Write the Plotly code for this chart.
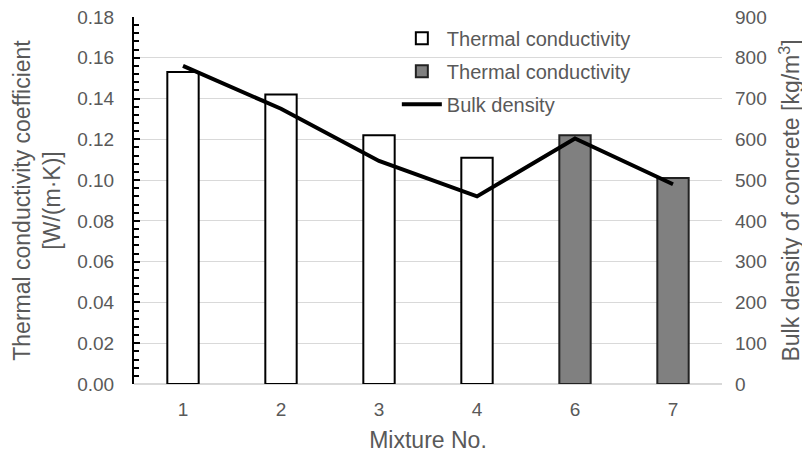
import plotly.graph_objects as go

categories = ["1", "2", "3", "4", "6", "7"]
tc_white_x = ["1", "2", "3", "4"]
tc_white = [0.153, 0.142, 0.122, 0.111]
tc_gray_x = ["6", "7"]
tc_gray = [0.122, 0.101]
density = [780, 675, 547, 460, 602, 490]

left_ticks = [0.00, 0.02, 0.04, 0.06, 0.08, 0.10, 0.12, 0.14, 0.16, 0.18]
right_ticks = [0, 100, 200, 300, 400, 500, 600, 700, 800, 900]

font_fam = "Liberation Sans, Arial, sans-serif"
txt = "#595959"
fs = 19

fig = go.Figure()
fig.add_trace(go.Bar(x=tc_white_x, y=tc_white, name="Thermal conductivity", legendgroup="a",
                     marker=dict(color="white", line=dict(color="black", width=2))))
fig.add_trace(go.Bar(x=tc_gray_x, y=tc_gray, name="Thermal conductivity", legendgroup="b",
                     marker=dict(color="#808080", line=dict(color="#222222", width=2))))
fig.add_trace(go.Scatter(x=categories, y=density, name="Bulk density", yaxis="y2", legendgroup="c",
                         mode="lines", line=dict(color="black", width=4)))

fig.update_layout(
    width=810, height=457,
    margin=dict(l=126, r=96, t=9, b=81, autoexpand=False),
    plot_bgcolor="white", paper_bgcolor="white",
    barmode="overlay", bargap=0.68,
    font=dict(family=font_fam, size=fs, color=txt),
    showlegend=True,
    legend=dict(x=0.447, y=0.995, xanchor="left", yanchor="top",
                bgcolor="rgba(0,0,0,0)", font=dict(size=20, color=txt),
                tracegroupgap=4, itemwidth=40),
    xaxis=dict(categoryorder="array", categoryarray=categories, type="category",
               showline=False, ticks="", automargin=False, ticklabelstandoff=12,
               title=dict(text="Mixture No.", standoff=12),
               tickfont=dict(size=fs, color=txt)),
    yaxis=dict(range=[0, 0.18], tickvals=left_ticks, tickformat=".2f",
               showgrid=True, gridcolor="#d9d9d9", gridwidth=1,
               showline=True, linecolor="black", linewidth=2,
               ticks="inside", ticklen=6, tickwidth=2, tickcolor="black",
               ticklabelstandoff=14, automargin=False, ticklabeloverflow="allow",
               minor=dict(dtick=0.004, ticks="inside", ticklen=5, tickwidth=2, tickcolor="black", showgrid=False),
               zeroline=True, zerolinecolor="#d9d9d9", zerolinewidth=1.5,
               title=dict(text="Thermal conductivity coefficient<br>[W/(m·K)]", standoff=10),
               tickfont=dict(size=fs, color=txt)),
    yaxis2=dict(range=[0, 900], tickvals=right_ticks, overlaying="y", side="right",
                showgrid=False, showline=False, zeroline=False, ticks="",
                ticklabelstandoff=12, automargin=False, ticklabeloverflow="allow",
                title=dict(text="Bulk density of concrete [kg/m<sup>3</sup>]", standoff=17),
                tickfont=dict(size=fs, color=txt)),
)

fig.write_html("out.html")
